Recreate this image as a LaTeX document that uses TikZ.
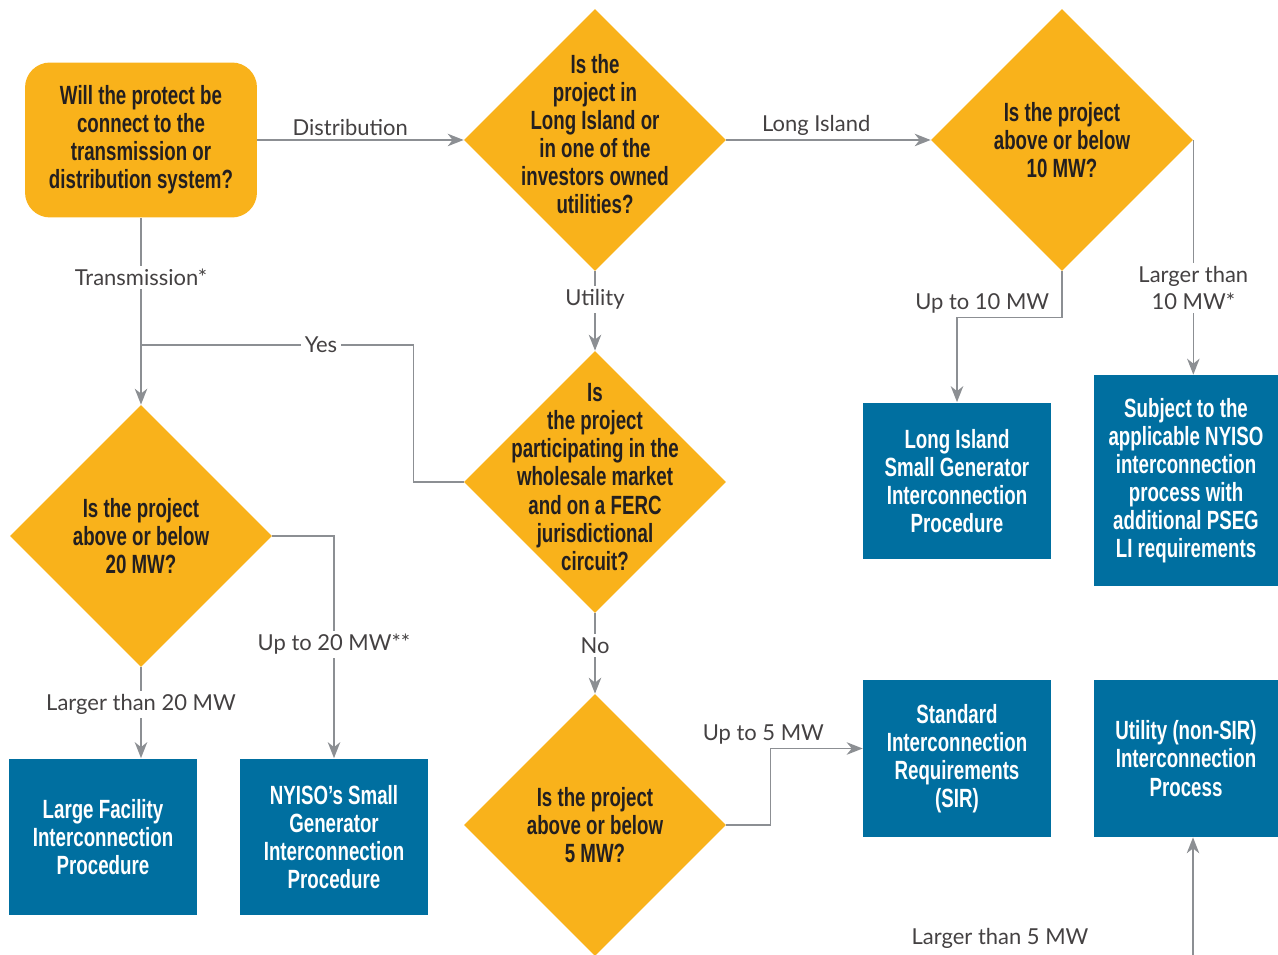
\documentclass[tikz,border=0pt]{standalone}
\usepackage{fontspec}
\usepackage{tikz}
\usetikzlibrary{shapes.geometric,arrows.meta}
\newfontfamily\condfont[FakeStretch=0.71]{Liberation Sans}
\newfontfamily\lblfont{Lato}
\definecolor{gold}{RGB}{249,178,27}
\definecolor{nyblue}{RGB}{0,111,160}
\definecolor{wire}{RGB}{140,143,147}
\definecolor{ink}{RGB}{35,31,32}

\begin{document}
\begin{tikzpicture}[x=0.02cm,y=-0.02cm,
  qbox/.style={rectangle,rounded corners=0.5cm,fill=gold,minimum width=4.64cm,
              minimum height=3.1cm,align=center,text=ink,inner sep=0pt,
              font=\condfont\bfseries\fontsize{15}{16}\selectfont},
  decision/.style={diamond,fill=gold,minimum width=5.24cm,minimum height=5.24cm,inner sep=0pt},
  qtext/.style={align=center,text=ink,inner sep=0pt,
              font=\condfont\bfseries\fontsize{15}{16}\selectfont},
  outcome/.style={rectangle,fill=nyblue,minimum width=3.76cm,minimum height=3.14cm,
              align=center,text=white,inner sep=0pt,
              font=\condfont\bfseries\fontsize{15}{16}\selectfont},
  lbl/.style={font=\lblfont\fontsize{12.5}{15}\selectfont,text=ink!85,fill=white,inner sep=2pt},
  line/.style={draw=wire,line width=0.9pt},
  arr/.style={line,-{Stealth[length=3.2mm,width=2.5mm,inset=1mm]}}]
\useasboundingbox (0,0) rectangle (1278,955);

% questions
\node[qbox] (start) at (141,140) {Will the protect be\\connect to the\\transmission or\\distribution system?};
\node[decision,label={[qtext,yshift=0.12cm]center:Is the\\project in\\Long Island or\\in one of the\\investors owned\\utilities?}] (loc) at (595,140) {};
\node[decision,label={[qtext]center:Is the project\\above or below\\10 MW?}] (size10) at (1062,140) {};
\node[decision,label={[qtext,yshift=0.1cm]center:Is\\the project\\participating in the\\wholesale market\\and on a FERC\\jurisdictional\\circuit?}] (market) at (595,482) {};
\node[decision,label={[qtext]center:Is the project\\above or below\\20 MW?}] (size20) at (141,536) {};
\node[decision,label={[qtext]center:Is the project\\above or below\\5 MW?}] (size5) at (595,825) {};

% outcomes
\node[outcome] (lfip) at (103,837) {Large Facility\\Interconnection\\Procedure};
\node[outcome] (sgip) at (334,837) {NYISO’s Small\\Generator\\Interconnection\\Procedure};
\node[outcome] (lisgip) at (957,481) {Long Island\\Small Generator\\Interconnection\\Procedure};
\node[outcome,minimum width=3.68cm,minimum height=4.22cm] (nyiso) at (1186,480.5) {Subject to the\\applicable NYISO\\interconnection\\process with\\additional PSEG\\LI requirements};
\node[outcome] (sir) at (957,758.5) {Standard\\Interconnection\\Requirements\\(SIR)};
\node[outcome,minimum width=3.68cm] (nonsir) at (1186,758.5) {Utility (non-SIR)\\Interconnection\\Process};

\coordinate (join) at (141,345);
\coordinate (offpage) at (1193,960);

% connectors
\draw[arr] (start) -- node[lbl,pos=0.45,above,fill=none] {Distribution} (loc);
\draw[arr] (loc) -- node[lbl,pos=0.44,above,fill=none] {Long Island} (size10);
\draw[arr] (start) -- node[lbl,pos=0.32] {Transmission*} (size20);
\draw[line] (market.west) -- ++(-50,0) |- node[lbl,pos=0.67] {Yes} (join);
\draw[arr] (loc) -- node[lbl,pos=0.35] {Utility} (market);
\draw[arr] (market) -- node[lbl,pos=0.4] {No} (size5);
\draw[arr] (size10.south) -- ++(0,46) -| node[lbl,pos=0.38,above,fill=none] {Up to 10 MW} (lisgip.north);
\draw[arr] (size10.east) -- node[lbl,pos=0.63,align=center] {Larger than\\10 MW*} (size10.east |- nyiso.north);
\draw[arr] (size20.east) -| node[lbl,pos=0.744] {Up to 20 MW**} (sgip.north);
\draw[arr] (size20.south) -- node[lbl,pos=0.41] {Larger than 20 MW} (size20.south |- lfip.north);
\draw[arr] (size5.east) -- ++(44,0) |- node[lbl,pos=0.5,above,fill=none,xshift=-0.14cm] {Up to 5 MW} ([yshift=0.2cm]sir.west);
\draw[arr] (offpage) -- (offpage |- nonsir.south);
\node[lbl,fill=none] (big5) at (1000,938) {Larger than 5 MW};
\end{tikzpicture}
\end{document}
